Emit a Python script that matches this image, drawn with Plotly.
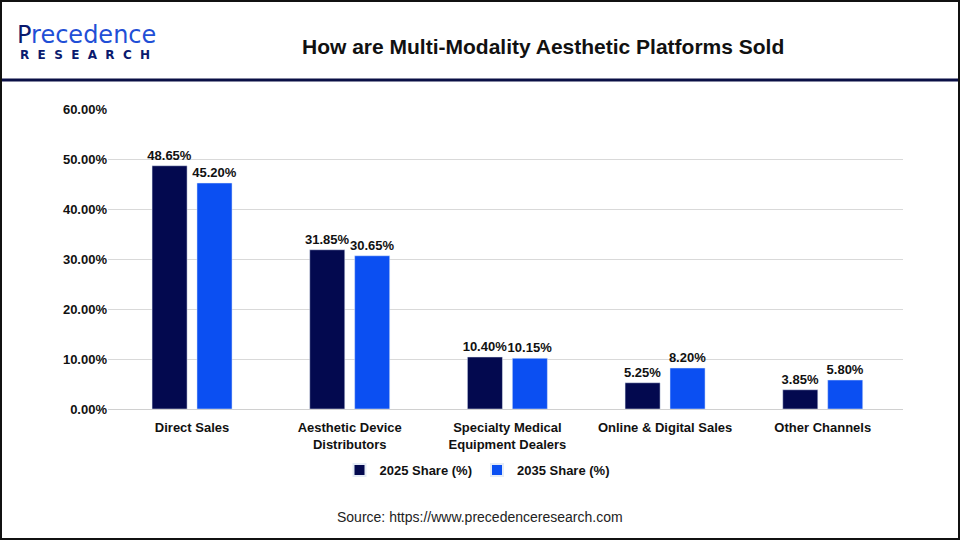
import plotly.graph_objects as go

# channel shares
channels = ["Direct Sales", "Aesthetic Device<br>Distributors", "Specialty Medical<br>Equipment Dealers",
            "Online & Digital Sales", "Other Channels"]
share_2025 = [48.65, 31.85, 10.40, 5.25, 3.85]
share_2035 = [45.20, 30.65, 10.15, 8.20, 5.80]
y_ticks = [0, 10, 20, 30, 40, 50, 60]
y_tick_text = [f"{v:.2f}%" for v in y_ticks]

navy = "#03094f"
blue = "#0b4ff2"
W, H = 960, 540
L, R, T, B = 108, 57, 109, 131
pw, ph = W - L - R, H - T - B


def px(x):
    return (x - L) / pw


def py(y):
    return (H - B - y) / ph


lab_font = dict(family="Liberation Sans", size=13, color="#111111", weight="bold")

fig = go.Figure()
fig.add_trace(go.Bar(x=channels, y=share_2025, name="2025 Share (%)", marker_color=navy,
                     texttemplate="%{y:.2f}%", textposition="outside", textfont=lab_font,
                     constraintext="none", cliponaxis=False))
fig.add_trace(go.Bar(x=channels, y=share_2035, name="2035 Share (%)", marker_color=blue,
                     texttemplate="%{y:.2f}%", textposition="outside", textfont=lab_font,
                     constraintext="none", cliponaxis=False))

fig.update_layout(
    width=W, height=H,
    margin=dict(l=L, r=R, t=T, b=B),
    paper_bgcolor="white", plot_bgcolor="white",
    barmode="group", bargap=0.43, bargroupgap=0.22,
    font=dict(family="Liberation Sans", color="#222222"),
    showlegend=True,
    legend=dict(orientation="h", x=px(477), xanchor="center", y=py(470), yanchor="middle",
                font=dict(size=13, color="#111111", weight="bold"), itemwidth=30,
                itemsizing="constant", traceorder="normal"),
)
fig.update_yaxes(range=[0, 60], tickvals=y_ticks, ticktext=y_tick_text,
                 showgrid=True, gridcolor="#d9d9d9", gridwidth=1, zeroline=False,
                 tickfont=dict(size=13, color="#111111", weight="bold"), ticks="", ticklen=0,
                 showline=False)
fig.update_xaxes(range=[-0.533, 4.509], showline=True, linecolor="#d0d0d0", linewidth=1, ticks="",
                 ticklabelstandoff=6, tickfont=dict(size=13, color="#111111", weight="bold"))

# header
fig.add_annotation(text="How are Multi-Modality Aesthetic Platforms Sold", xref="paper", yref="paper",
                   x=px(543), y=py(47), showarrow=False, xanchor="center", yanchor="middle",
                   font=dict(size=21, color="#111111", weight="bold"))
fig.add_annotation(text="<span style='color:#0a1a6e'>P</span>recedence", xref="paper", yref="paper",
                   x=px(15), y=py(35), showarrow=False, xanchor="left", yanchor="middle",
                   font=dict(family="DejaVu Sans", size=24, color="#1f4fd6"))
fig.add_annotation(text="R  E  S  E  A  R  C  H", xref="paper", yref="paper",
                   x=px(18), y=py(55), showarrow=False, xanchor="left", yanchor="middle",
                   font=dict(family="DejaVu Sans", size=12, color="#0a1a6e", weight="bold"))
fig.add_shape(type="line", xref="paper", yref="paper", x0=px(0), x1=px(W), y0=py(80), y1=py(80),
              line=dict(color="#0a0f45", width=3))
fig.add_shape(type="rect", xref="paper", yref="paper", x0=px(1), x1=px(W - 1), y0=py(1), y1=py(H - 1),
              line=dict(color="#111111", width=2))

fig.add_annotation(text="Source: https://www.precedenceresearch.com", xref="paper", yref="paper",
                   x=px(480), y=py(517), showarrow=False, xanchor="center", yanchor="middle",
                   font=dict(size=14, color="#222222"))

fig.write_html("out.html", config={"displayModeBar": False},
               post_script="document.body.style.margin='0';")
